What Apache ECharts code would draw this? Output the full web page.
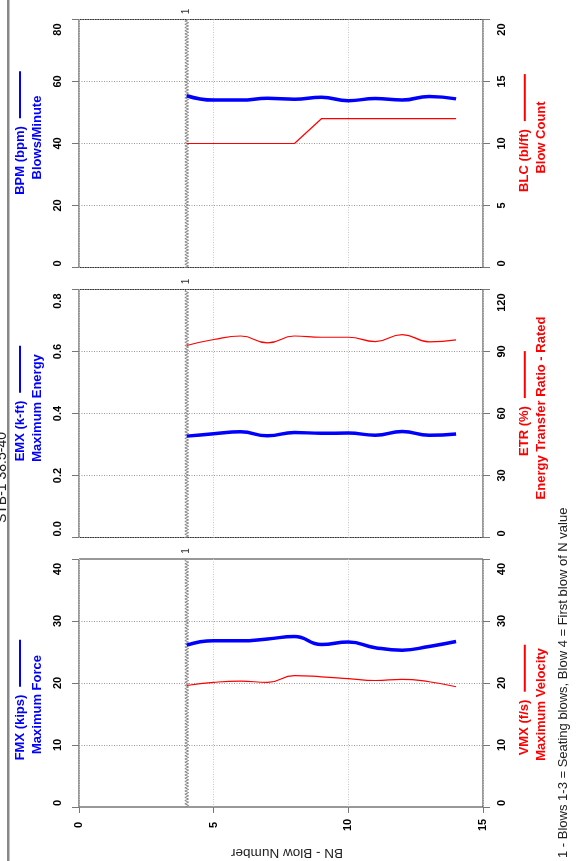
<!DOCTYPE html>
<html><head><meta charset="utf-8">
<script src="https://cdn.jsdelivr.net/npm/echarts@6/dist/echarts.min.js"></script>
<style>html,body{margin:0;padding:0;background:#fff}#c{width:578px;height:861px}</style>
</head><body><div id="c"></div>
<script>
// ---- data ----
const blows = [4, 5, 6, 7, 8, 9, 10, 11, 12, 13, 14];
const bpm = [55.4, 54.0, 54.0, 54.6, 54.3, 54.9, 53.8, 54.5, 54.0, 55.2, 54.4];
const blc = [10, 10, 10, 10, 10, 12, 12, 12, 12, 12, 12];
const emx = [0.327, 0.335, 0.341, 0.328, 0.339, 0.336, 0.337, 0.330, 0.342, 0.330, 0.334];
const etr = [92.9, 95.8, 97.5, 94.2, 97.5, 96.9, 96.9, 94.8, 98.2, 94.7, 95.6];
const fmx = [26.1, 26.8, 26.8, 27.1, 27.5, 26.2, 26.6, 25.7, 25.3, 25.9, 26.7];
const vmx = [19.6, 20.1, 20.3, 20.1, 21.2, 21.0, 20.7, 20.4, 20.6, 20.2, 19.4];
const seatingEnd = [4];
const seatingMark = '1';
const bnRange = [0, 15, 5];
const titleText = 'STB-1 38.5-40';
const xName = 'BN - Blow Number';
const footnote = '1 - Blows 1-3 = Seating blows, Blow 4 = First blow of N value';

const FF = '"Liberation Sans", Arial, Helvetica, sans-serif';
const BLUE = '#0000FF', RED = '#FF0000';
const cv = document.createElement('canvas').getContext('2d');
function tw(s, font) { cv.font = font; return cv.measureText(s).width; }
const LBLFONT = 'bold 11px "Liberation Sans"';

const panels = [
  { top: 19.5, shift: -10.5,
    left: { min: 0, max: 80, interval: 20, dec: 0, n1: 'BPM (bpm)', n2: 'Blows/Minute' },
    right: { min: 0, max: 20, interval: 5, dec: 0, n1: 'BLC (bl/ft)', n2: 'Blow Count' },
    prim: bpm, sec: blc, secSmooth: false },
  { top: 289.5, shift: -10,
    left: { min: 0, max: 0.8, interval: 0.2, dec: 1, n1: 'EMX (k-ft)', n2: 'Maximum Energy' },
    right: { min: 0, max: 120, interval: 30, dec: 0, n1: 'ETR (%)', n2: 'Energy Transfer Ratio - Rated' },
    prim: emx, sec: etr, secSmooth: true },
  { top: 559, shift: 17,
    left: { min: 0, max: 40, interval: 10, dec: 0, n1: 'FMX (kips)', n2: 'Maximum Force' },
    right: { min: 0, max: 40, interval: 10, dec: 0, n1: 'VMX (f/s)', n2: 'Maximum Velocity' },
    prim: fmx, sec: vmx, secSmooth: true }
];

function yAxisDef(ax, side, gi, color, shift) {
  const fmt = v => Number(v).toFixed(ax.dec);
  const base = { fontSize: 11, fontWeight: 'bold', fontFamily: FF, color: '#000' };
  const nm = { color, fontSize: 13, fontWeight: 'bold', fontFamily: FF, lineHeight: 17 };
  return {
    type: 'value', gridIndex: gi, position: side, min: ax.min, max: ax.max, interval: ax.interval,
    axisLine: { show: false },
    axisTick: { show: true, length: 7, lineStyle: { color: '#777' } },
    splitLine: { show: side === 'left', lineStyle: { color: '#999', type: [1, 1.5] } },
    axisLabel: Object.assign({}, base, {
      show: true, rotate: 90, align: 'center', verticalAlign: 'middle', margin: side === 'left' ? 21 : 19,
      formatter: v => {
        const s = fmt(v);
        if (Math.abs(v - ax.max) < 1e-9) return '{mx|' + s + '}';
        if (Math.abs(v - ax.min) < 1e-9) return '{mn|' + s + '}';
        return s;
      },
      rich: {
        mx: Object.assign({}, base, { padding: [0, 8 + tw(fmt(ax.max), LBLFONT), 0, 0] }),
        mn: Object.assign({}, base, { padding: [0, 0, 0, 2 + tw(fmt(ax.min), LBLFONT)] })
      }
    }),
    name: '{a|' + ax.n1 + '}{sp|}{ln|}\n{b|' + ax.n2 + '}',
    nameLocation: 'middle', nameRotate: 90, nameGap: side === 'left' ? 50.5 : 50.3,
    nameMoveOverlap: false,
    nameTextStyle: Object.assign({}, nm, {
      align: 'center', verticalAlign: 'middle',
      padding: shift < 0 ? [0, 0, 0, -2 * shift] : [0, 2 * shift, 0, 0],
      rich: {
        a: Object.assign({}, nm),
        sp: { width: 8, height: 2, lineHeight: 17 },
        ln: { width: 47, height: 2, lineHeight: 17, backgroundColor: color, verticalAlign: 'middle' },
        b: Object.assign({}, nm, { padding: [0, 9, 0, 0] })
      }
    })
  };
}

const grids = [], xAxes = [], yAxes = [], series = [];
panels.forEach((p, i) => {
  grids.push({ left: 79, width: 404, top: p.top, height: 248, show: true, borderColor: '#333', borderWidth: 1,
    backgroundColor: 'transparent', containLabel: false, outerBoundsMode: 'none' });
  const last = i === panels.length - 1;
  xAxes.push({
    type: 'value', gridIndex: i, min: bnRange[0], max: bnRange[1], interval: bnRange[2],
    axisLine: { show: false },
    axisTick: { show: last, length: 6, lineStyle: { color: '#777' } },
    splitLine: { show: true, lineStyle: { color: '#c8c8c8', type: [1, 1.5] } },
    axisLabel: { show: last, rotate: 90, align: 'center', verticalAlign: 'middle', margin: 18,
      fontSize: 11, fontWeight: 'bold', color: '#000', fontFamily: FF },
    name: last ? xName : '', nameLocation: 'middle', nameRotate: 180, nameGap: 46, nameMoveOverlap: false,
    nameTextStyle: { fontSize: 13.5, color: '#222', fontFamily: FF, align: 'center', verticalAlign: 'middle', padding: [0, 12, 0, 0] }
  });
  yAxes.push(yAxisDef(p.left, 'left', i, BLUE, p.shift));
  yAxes.push(yAxisDef(p.right, 'right', i, RED, p.shift));
  const la = p.left;
  series.push({
    type: 'custom', xAxisIndex: i, yAxisIndex: 2 * i, clip: false, silent: true, z: 1,
    data: seatingEnd.map(b => [b, la.min]), encode: { x: 0, y: 1 },
    renderItem: (params, api) => {
      const x = api.value(0);
      const b = api.coord([x, la.min]), t = api.coord([x, la.max]);
      const pts = []; let k = 0;
      for (let y = b[1]; y > t[1]; y -= 1.6) pts.push([b[0] + (k++ % 2 ? 1.9 : -1.9), y]);
      pts.push([b[0], t[1]]);
      return { type: 'group', children: [
        { type: 'polyline', shape: { points: pts }, style: { stroke: '#8a8a8a', lineWidth: 1, fill: null } },
        { type: 'text', x: t[0], y: t[1] - 8, rotation: Math.PI / 2,
          style: { text: seatingMark, fontSize: 10, fontFamily: FF, fill: '#333', align: 'center', verticalAlign: 'middle' } }
      ] };
    }
  });
  series.push({
    type: 'line', xAxisIndex: i, yAxisIndex: 2 * i + 1, data: blows.map((b, j) => [b, p.sec[j]]),
    smooth: p.secSmooth ? 0.5 : false, symbol: 'none', lineStyle: { color: RED, width: 1.2 }, z: 2
  });
  series.push({
    type: 'line', xAxisIndex: i, yAxisIndex: 2 * i, data: blows.map((b, j) => [b, p.prim[j]]),
    smooth: 0.5, symbol: 'none', lineStyle: { color: BLUE, width: 3.5 }, z: 3
  });
});

const chart = echarts.init(document.getElementById('c'), null, { renderer: 'canvas' });
chart.setOption({
  animation: false,
  backgroundColor: '#fff',
  grid: grids, xAxis: xAxes, yAxis: yAxes, series,
  graphic: [
    { type: 'rect', left: 7, top: 0, shape: { width: 2.5, height: 861 }, style: { fill: '#888' } },
    { type: 'text', x: 2, y: 477.5, rotation: Math.PI / 2,
      style: { text: titleText, fontSize: 14, fontFamily: FF, fill: '#222', align: 'center', verticalAlign: 'middle' } },
    { type: 'text', x: 563, y: 858, rotation: Math.PI / 2,
      style: { text: footnote, fontSize: 13, fontFamily: FF, fill: '#222', align: 'left', verticalAlign: 'middle' } }
  ]
});
</script></body></html>
